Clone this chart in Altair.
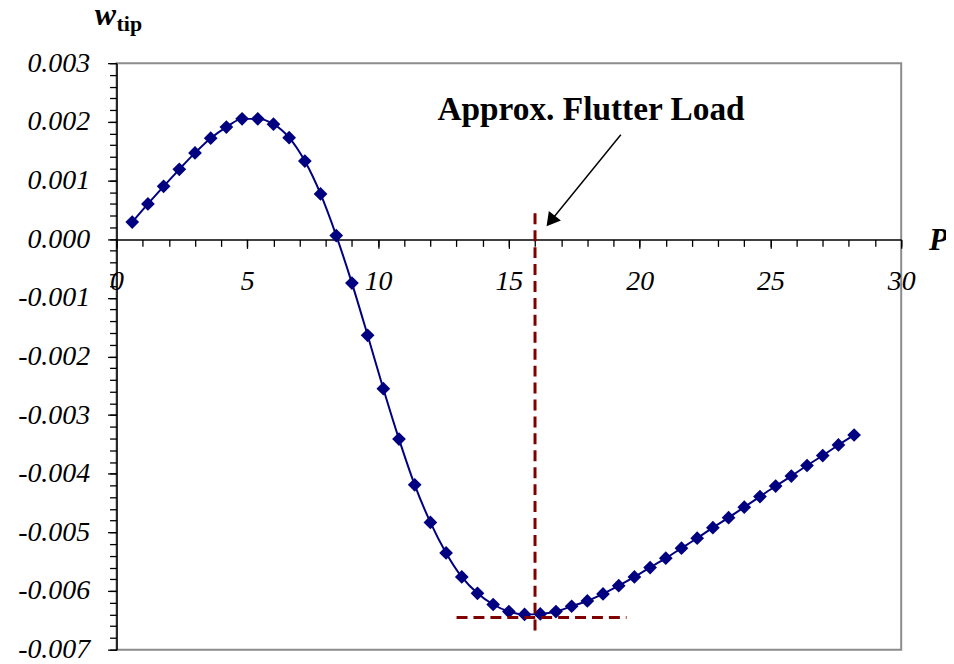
import altair as alt
import pandas as pd

# Load P and tip deflection w_tip
P = [0.6, 1.2, 1.8, 2.4, 3.0, 3.6, 4.2, 4.8, 5.4, 6.0,
     6.6, 7.2, 7.8, 8.4, 9.0, 9.6, 10.2, 10.8, 11.4, 12.0,
     12.6, 13.2, 13.8, 14.4, 15.0, 15.6, 16.2, 16.8, 17.4, 18.0,
     18.6, 19.2, 19.8, 20.4, 21.0, 21.6, 22.2, 22.8, 23.4, 24.0,
     24.6, 25.2, 25.8, 26.4, 27.0, 27.6, 28.2]
W = [0.00029, 0.00060, 0.00090, 0.00119, 0.00147, 0.00172, 0.00191, 0.00205, 0.00205, 0.00196,
     0.00173, 0.00133, 0.00077, 0.00006, -0.00075, -0.00164, -0.00255, -0.00341, -0.00419, -0.00483,
     -0.00535, -0.00576, -0.00604, -0.00623, -0.00635, -0.00640, -0.00639, -0.00635, -0.00626, -0.00617,
     -0.00605, -0.00591, -0.00576, -0.00560, -0.00544, -0.00527, -0.00510, -0.00492, -0.00475, -0.00457,
     -0.00439, -0.00421, -0.00404, -0.00386, -0.00369, -0.00351, -0.00334]

# Flutter-load marker lines
VLINE_P = [16.0]
VLINE_W = [0.00044]
VLINE_W2 = [-0.0067]
HLINE_P = [13.0]
HLINE_P2 = [19.5]
HLINE_W = [-0.00645]

# Arrow (tail -> head) and annotation
ARROW_P = [19.28]
ARROW_W = [0.00178]
ARROW_P2 = [16.6]
ARROW_W2 = [0.00031]
LABEL_TEXT = ["Approx. Flutter Load"]
LABEL_P = [18.14]
LABEL_W = [0.00203]

X_MAJOR = [0, 5, 10, 15, 20, 25, 30]
X_MINOR = list(range(0, 31))
Y_MAJOR = [-0.007, -0.006, -0.005, -0.004, -0.003, -0.002, -0.001, 0.0, 0.001, 0.002, 0.003]
Y_MINOR = [round(-0.007 + 0.0002 * i, 4) for i in range(51)]

SERIF = "Liberation Serif"
NAVY = "#000080"
DARKRED = "#800000"

df = pd.DataFrame({"P": P, "w": W})

xscale = alt.Scale(domain=[0, 30], nice=False, zero=False)
yscale = alt.Scale(domain=[-0.007, 0.003], nice=False, zero=False)

xaxis_major = alt.Axis(
    title=None, values=X_MAJOR, grid=False, offset=-412, orient="bottom",
    domainColor="black", domainWidth=1.5, tickColor="black", tickWidth=1.3, tickSize=9,
    labelFont=SERIF, labelFontStyle="italic", labelFontSize=28, labelColor="black",
    labelPadding=19, labelFlush=False, labelOverlap=False,
)
yaxis_major = alt.Axis(
    title=None, values=Y_MAJOR, grid=False, orient="left",
    domainColor="black", domainWidth=1.5, tickColor="black", tickWidth=1.3, tickSize=9,
    labelExpr="(datum.value < -0.00001 ? '-' : '') + format(abs(datum.value), '.3f')",
    labelFont=SERIF, labelFontStyle="italic", labelFontSize=28, labelColor="black",
    labelPadding=18, labelFlush=False, labelOverlap=False,
)
xaxis_minor = alt.Axis(
    title=None, values=X_MINOR, grid=False, offset=-412, orient="bottom", labels=False,
    domain=False, tickColor="black", tickWidth=1.3, tickSize=7,
)
yaxis_minor = alt.Axis(
    title=None, values=Y_MINOR, grid=False, orient="left", labels=False,
    domain=False, tickColor="black", tickWidth=1.3, tickSize=7,
)

base = alt.Chart(df)
line = base.mark_line(color=NAVY, strokeWidth=2, interpolate="monotone").encode(
    x=alt.X("P:Q", scale=xscale, axis=xaxis_major),
    y=alt.Y("w:Q", scale=yscale, axis=yaxis_major),
)
pts = base.mark_point(shape="diamond", filled=True, size=190, color=NAVY, opacity=1).encode(
    x=alt.X("P:Q", scale=xscale, axis=xaxis_minor),
    y=alt.Y("w:Q", scale=yscale, axis=yaxis_minor),
)

vline = alt.Chart(pd.DataFrame({"P": VLINE_P, "w": VLINE_W, "w2": VLINE_W2})).mark_rule(
    color=DARKRED, strokeWidth=3, strokeDash=[11, 6]
).encode(x=alt.X("P:Q", axis=None), y=alt.Y("w:Q", axis=None), y2="w2:Q")

hline = alt.Chart(pd.DataFrame({"P": HLINE_P, "P2": HLINE_P2, "w": HLINE_W})).mark_rule(
    color=DARKRED, strokeWidth=3, strokeDash=[11, 6]
).encode(x=alt.X("P:Q", axis=None), x2="P2:Q", y=alt.Y("w:Q", axis=None))

arrow_df = pd.DataFrame({"P": ARROW_P, "w": ARROW_W, "P2": ARROW_P2, "w2": ARROW_W2})
arrow = alt.Chart(arrow_df).mark_rule(color="black", strokeWidth=1.5).encode(
    x=alt.X("P:Q", axis=None), y=alt.Y("w:Q", axis=None), x2="P2:Q", y2="w2:Q"
)
head = alt.Chart(arrow_df).mark_point(
    shape="triangle-up", filled=True, size=240, color="black", opacity=1, angle=218.5
).encode(x=alt.X("P2:Q", axis=None), y=alt.Y("w2:Q", axis=None))

label = alt.Chart(pd.DataFrame({"P": LABEL_P, "w": LABEL_W, "t": LABEL_TEXT})).mark_text(
    font=SERIF, fontWeight="bold", fontSize=33.5, color="black", align="center", baseline="alphabetic"
).encode(x=alt.X("P:Q", axis=None), y=alt.Y("w:Q", axis=None), text="t:N")

one = pd.DataFrame({"a": [0]})
t_w = alt.Chart(one).mark_text(
    text="w", font=SERIF, fontWeight="bold", fontStyle="italic", fontSize=32,
    color="black", align="left", baseline="alphabetic"
).encode(x=alt.value(-22), y=alt.value(-38))
t_tip = alt.Chart(one).mark_text(
    text="tip", font=SERIF, fontWeight="bold", fontSize=22,
    color="black", align="left", baseline="alphabetic"
).encode(x=alt.value(0), y=alt.value(-32))
t_p = alt.Chart(one).mark_text(
    text="P", font=SERIF, fontWeight="bold", fontStyle="italic", fontSize=31,
    color="black", align="left", baseline="alphabetic"
).encode(x=alt.value(816), y=alt.value(188))

chart = alt.layer(
    line, pts, vline, hline, arrow, head, label, t_w, t_tip, t_p
).resolve_axis(
    x="independent", y="independent"
).resolve_scale(
    x="shared", y="shared"
).properties(
    width=788, height=589,
    padding={"left": 109, "top": 54, "right": 45, "bottom": 10},
    autosize=alt.AutoSizeParams(type="none"),
    background="white",
).configure_view(
    stroke="#8c8c8c", strokeWidth=2
)

chart.save("out.html", embed_options={"renderer": "svg", "actions": False})
